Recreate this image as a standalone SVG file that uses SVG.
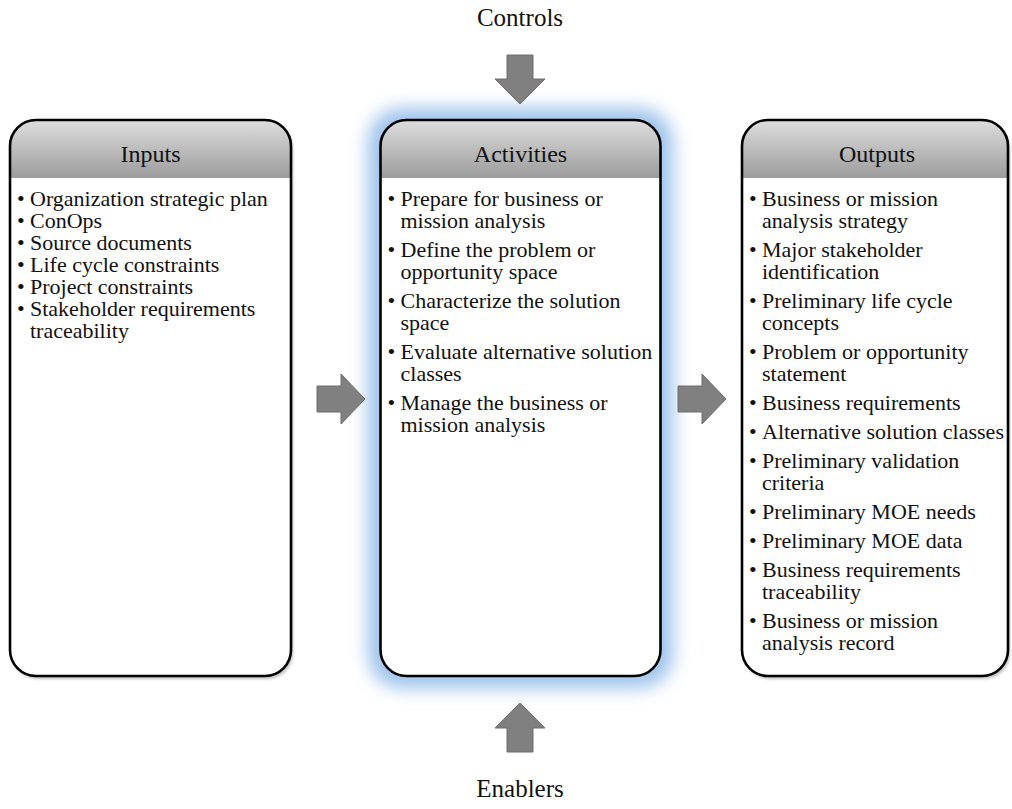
<svg xmlns="http://www.w3.org/2000/svg" width="1012" height="809" viewBox="0 0 1012 809">
  <defs>
    <linearGradient id="hdr" x1="0" y1="0" x2="0" y2="1">
      <stop offset="0" stop-color="#dedede"/>
      <stop offset="1" stop-color="#9c9c9c"/>
    </linearGradient>
    <filter id="glow" x="-25%" y="-25%" width="150%" height="150%">
      <feGaussianBlur stdDeviation="9"/>
    </filter>
    <filter id="shade" x="-10%" y="-10%" width="120%" height="120%">
      <feGaussianBlur stdDeviation="1.5"/>
    </filter>
  </defs>
  <style>
    .frame { fill: none; stroke: #000; stroke-width: 2.6; }
    .body { fill: #fff; }
    .head { fill: url(#hdr); }
    .title { font-family: "Liberation Serif", "Times New Roman", serif; font-size: 24px; fill: #111; text-anchor: middle; }
    .item { font-family: "Liberation Serif", "Times New Roman", serif; font-size: 22px; fill: #111; }
    .label { font-family: "Liberation Serif", "Times New Roman", serif; font-size: 25px; fill: #111; text-anchor: middle; }
    .arrow { fill: #808080; stroke: #6c6c6c; stroke-width: 1; }
  </style>

  <rect width="1012" height="809" fill="#fff"/>

  <!-- Inputs -->
  <g id="inputs">
    <rect x="12" y="123" width="281" height="556" rx="26" fill="#000" opacity="0.25" filter="url(#shade)"/>
    <rect class="body" x="10" y="120" width="281" height="556" rx="26"/>
    <path class="head" d="M10,178 V146 A26,26 0 0 1 36,120 H265 A26,26 0 0 1 291,146 V178 Z"/>
    <rect x="10" y="178" width="281" height="2" fill="#fff"/>
    <rect class="frame" x="10" y="120" width="281" height="556" rx="26"/>
    <text class="title" x="150.5" y="162">Inputs</text>
    <text class="item">
      <tspan x="17" y="206">•</tspan><tspan x="30" y="206">Organization strategic plan</tspan>
      <tspan x="17" y="228">•</tspan><tspan x="30" y="228">ConOps</tspan>
      <tspan x="17" y="250">•</tspan><tspan x="30" y="250">Source documents</tspan>
      <tspan x="17" y="272">•</tspan><tspan x="30" y="272">Life cycle constraints</tspan>
      <tspan x="17" y="294">•</tspan><tspan x="30" y="294">Project constraints</tspan>
      <tspan x="17" y="316">•</tspan><tspan x="30" y="316">Stakeholder requirements</tspan>
      <tspan x="30" y="338">traceability</tspan>
    </text>
  </g>

  <!-- Activities (highlighted with a soft blue halo) -->
  <g id="activities">
    <rect x="368" y="108" width="305" height="580" rx="34" fill="#9cc2ec" filter="url(#glow)"/>
    <rect class="body" x="380.5" y="120" width="280" height="556" rx="26"/>
    <path class="head" d="M380.5,178 V146 A26,26 0 0 1 406.5,120 H634.5 A26,26 0 0 1 660.5,146 V178 Z"/>
    <rect x="380.5" y="178" width="280" height="2" fill="#fff"/>
    <rect class="frame" x="380.5" y="120" width="280" height="556" rx="26"/>
    <text class="title" x="520.5" y="162">Activities</text>
    <text class="item">
      <tspan x="387.5" y="206">•</tspan><tspan x="400.5" y="206">Prepare for business or</tspan>
      <tspan x="400.5" y="228">mission analysis</tspan>
      <tspan x="387.5" y="257">•</tspan><tspan x="400.5" y="257">Define the problem or</tspan>
      <tspan x="400.5" y="279">opportunity space</tspan>
      <tspan x="387.5" y="308">•</tspan><tspan x="400.5" y="308">Characterize the solution</tspan>
      <tspan x="400.5" y="330">space</tspan>
      <tspan x="387.5" y="359">•</tspan><tspan x="400.5" y="359">Evaluate alternative solution</tspan>
      <tspan x="400.5" y="381">classes</tspan>
      <tspan x="387.5" y="410">•</tspan><tspan x="400.5" y="410">Manage the business or</tspan>
      <tspan x="400.5" y="432">mission analysis</tspan>
    </text>
  </g>

  <!-- Outputs -->
  <g id="outputs">
    <rect x="744" y="123" width="266" height="556" rx="26" fill="#000" opacity="0.25" filter="url(#shade)"/>
    <rect class="body" x="742" y="120" width="266" height="556" rx="26"/>
    <path class="head" d="M742,178 V146 A26,26 0 0 1 768,120 H982 A26,26 0 0 1 1008,146 V178 Z"/>
    <rect x="742" y="178" width="266" height="2" fill="#fff"/>
    <rect class="frame" x="742" y="120" width="266" height="556" rx="26"/>
    <text class="title" x="877" y="162">Outputs</text>
    <text class="item">
      <tspan x="749" y="206">•</tspan><tspan x="762" y="206">Business or mission</tspan>
      <tspan x="762" y="228">analysis strategy</tspan>
      <tspan x="749" y="257">•</tspan><tspan x="762" y="257">Major stakeholder</tspan>
      <tspan x="762" y="279">identification</tspan>
      <tspan x="749" y="308">•</tspan><tspan x="762" y="308">Preliminary life cycle</tspan>
      <tspan x="762" y="330">concepts</tspan>
      <tspan x="749" y="359">•</tspan><tspan x="762" y="359">Problem or opportunity</tspan>
      <tspan x="762" y="381">statement</tspan>
      <tspan x="749" y="410">•</tspan><tspan x="762" y="410">Business requirements</tspan>
      <tspan x="749" y="439">•</tspan><tspan x="762" y="439">Alternative solution classes</tspan>
      <tspan x="749" y="468">•</tspan><tspan x="762" y="468">Preliminary validation</tspan>
      <tspan x="762" y="490">criteria</tspan>
      <tspan x="749" y="519">•</tspan><tspan x="762" y="519">Preliminary MOE needs</tspan>
      <tspan x="749" y="548">•</tspan><tspan x="762" y="548">Preliminary MOE data</tspan>
      <tspan x="749" y="577">•</tspan><tspan x="762" y="577">Business requirements</tspan>
      <tspan x="762" y="599">traceability</tspan>
      <tspan x="749" y="628">•</tspan><tspan x="762" y="628">Business or mission</tspan>
      <tspan x="762" y="650">analysis record</tspan>
    </text>
  </g>

  <!-- Controls / Enablers labels -->
  <g id="controls">
    <text class="label" x="520" y="26">Controls</text>
  </g>
  <g id="enablers">
    <text class="label" x="520" y="797">Enablers</text>
  </g>

  <!-- Block arrows -->
  <g id="connectors">
    <polygon class="arrow" points="317,386 341,386 341,374 365,399 341,424 341,412 317,412"/>
    <polygon class="arrow" points="678,386 702,386 702,374 726,399 702,424 702,412 678,412"/>
    <polygon class="arrow" points="507,55 533,55 533,79 545,79 520,104 495,79 507,79"/>
    <polygon class="arrow" points="507,752 533,752 533,728 545,728 520,703 495,728 507,728"/>
  </g>
</svg>
